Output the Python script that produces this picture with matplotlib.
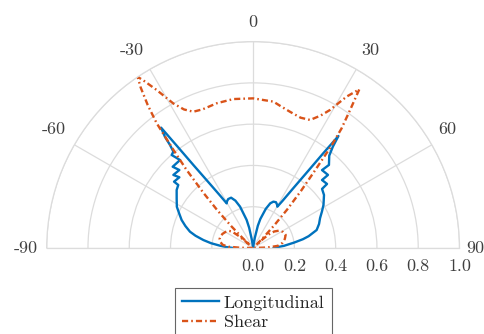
import numpy as np
import matplotlib
matplotlib.use("Agg")
import matplotlib.pyplot as plt
import matplotlib.transforms as mtransforms

plt.rcParams['font.family'] = 'serif'
plt.rcParams['font.serif'] = ['cmr10', 'DejaVu Serif']
plt.rcParams['mathtext.fontset'] = 'cm'
plt.rcParams['axes.unicode_minus'] = False

# ---- data (angle in degrees, normalised amplitude) ----
long_theta = [-90, -88, -86, -83.5, -80.9, -78, -75.5, -72, -68.6, -65, -61.6, -57.3, -52.8,
              -49.9, -50.0, -46.2, -47.5, -43.4, -44.7, -39.7, -41.2, -39.6, -38.9, -38.4,
              -37.4, -36.7, -35.7, -33.9, -32.2, -30.6, -29.5, -27, -23.6, -20.5, -17.5,
              -13, -11, -9, -7, -4, 0, 4, 7, 9.5, 12, 14, 18, 21, 23.6, 26.5, 29, 30.4,
              32, 33.8, 35.5, 36.5, 37.3, 38.2, 39.5, 42.4, 41.5, 45.7, 45.4, 49.1, 49.4,
              53.2, 58.5, 62, 66, 70, 74.2, 78, 80, 82.5, 86, 88.3, 90]
long_r = [0.096, 0.13, 0.161, 0.205, 0.244, 0.285, 0.316, 0.345, 0.372, 0.395, 0.42, 0.44, 0.465,
          0.474, 0.50, 0.495, 0.524, 0.52, 0.554, 0.554, 0.599, 0.606, 0.641, 0.688,
          0.734, 0.613, 0.492, 0.371, 0.30, 0.251, 0.258, 0.266, 0.266, 0.245, 0.21,
          0.14, 0.10, 0.045, 0.015, 0.004, 0.0, 0.004, 0.013, 0.05, 0.11, 0.145, 0.20, 0.232, 0.245, 0.248, 0.24, 0.232,
          0.27, 0.344, 0.456, 0.569, 0.682, 0.625, 0.58, 0.545, 0.504, 0.507, 0.469, 0.474, 0.44,
          0.429, 0.40, 0.378, 0.355, 0.34, 0.32, 0.275, 0.245, 0.20, 0.15, 0.114, 0.10]

shear_theta = [-90, -89, -87, -84, -80, -75, -70, -65, -60, -55, -52, -50, -48.5, -47.5, -46.5,
               -45, -43.5, -42, -40.4, -39, -37.7, -36.4, -35, -34, -33.2, -31.4, -28.9, -26.5,
               -23.7, -20, -14.1, -7.6, 0, 7.9, 11, 15.1, 20, 24, 27, 29.1, 31.7, 33.8, 35.1,
               36.5, 37.5, 38.6, 40, 41.5, 43, 44.5, 46, 47.5, 49, 52, 56, 62, 68, 74, 80, 85, 88, 90]
shear_r = [0.0, 0.06, 0.12, 0.148, 0.16, 0.168, 0.168, 0.163, 0.155, 0.145, 0.13, 0.09, 0.04, 0.02, 0.07,
           0.15, 0.25, 0.36, 0.50, 0.62, 0.764, 0.86, 0.95, 1.0, 0.97, 0.897, 0.80, 0.75,
           0.721, 0.715, 0.723, 0.728, 0.725, 0.716, 0.70, 0.684, 0.672, 0.679, 0.72, 0.765, 0.862, 0.925, 0.817,
           0.72, 0.62, 0.48, 0.36, 0.25, 0.15, 0.07, 0.02, 0.06, 0.10, 0.13, 0.15, 0.165, 0.17, 0.16, 0.145, 0.12, 0.07, 0.0]

theta_ticks = [-90, -60, -30, 0, 30, 60, 90]
theta_labels = ['-90', '-60', '-30', '0', '30', '60', '90']
r_ticks = [0.0, 0.2, 0.4, 0.6, 0.8, 1.0]
r_labels = ['0.0', '0.2', '0.4', '0.6', '0.8', '1.0']
series_names = ['Longitudinal', 'Shear']

W, H = 485, 334
fig = plt.figure(figsize=(W / 100, H / 100), dpi=100)
cx, cy, R = 253.1, 248.0, 206.4
# polar axes keeps a square box; the half-disc is centred inside it
bcy = cy - R / 2  # box centre (from top)
ax = fig.add_axes([(cx - R) / W, (H - (bcy + R)) / H, 2 * R / W, 2 * R / H], projection='polar')
ax.set_theta_zero_location('N')
ax.set_theta_direction(-1)
ax.set_thetamin(-90)
ax.set_thetamax(90)
ax.set_rlim(0, 1)

grid_c = '#dcdcdc'
ax.set_thetagrids(theta_ticks, labels=[''] * len(theta_ticks))
ax.set_rgrids(r_ticks[1:], labels=[''] * (len(r_ticks) - 1))
ax.grid(True, color=grid_c, linewidth=0.9)
for sp in ax.spines.values():
    sp.set_color(grid_c)
    sp.set_linewidth(0.9)
ax.tick_params(length=0)

blue = '#0072BD'
orange = '#D95319'
l1, = ax.plot(np.deg2rad(long_theta), long_r, color=blue, lw=1.7, label=series_names[0])
l2, = ax.plot(np.deg2rad(shear_theta), shear_r, color=orange, lw=1.7,
              linestyle=(0, (2.6, 1.3, 0.7, 1.3)), label=series_names[1])

txt_c = '#404040'
fs = 13
# theta labels: offsets in pixels (dx right, dy up) from the outer circle
th_off = {-90: (-20.7, 0), -60: (-20.2, 15.6), -30: (-17.8, 18.5), 0: (0, 19),
          30: (13.7, 18.5), 60: (15.5, 15.6), 90: (15.5, 0)}
for t, lab in zip(theta_ticks, theta_labels):
    dx, dy = th_off[t]
    tr = ax.transData + mtransforms.ScaledTranslation(dx / 100, dy / 100, fig.dpi_scale_trans)
    ax.text(np.deg2rad(t), 1.0, lab, transform=tr, ha='center', va='center',
            fontsize=fs, color=txt_c, clip_on=False)

for r, lab in zip(r_ticks, r_labels):
    tr = ax.transData + mtransforms.ScaledTranslation(0, -18.5 / 100, fig.dpi_scale_trans)
    ax.text(np.deg2rad(90), r, lab, transform=tr, ha='center', va='center',
            fontsize=fs, color=txt_c, clip_on=False)

leg = fig.legend(handles=[l1, l2], loc='upper center', bbox_to_anchor=(cx / W, 1 - 288 / H),
                 fontsize=fs, frameon=True, fancybox=False, handlelength=2.1,
                 handletextpad=0.25, borderpad=0.38, labelspacing=0.2, borderaxespad=0)
leg.get_frame().set_edgecolor('#404040')
leg.get_frame().set_linewidth(0.8)
for t in leg.get_texts():
    t.set_color('#262626')

fig.savefig('out.png', dpi=100)
